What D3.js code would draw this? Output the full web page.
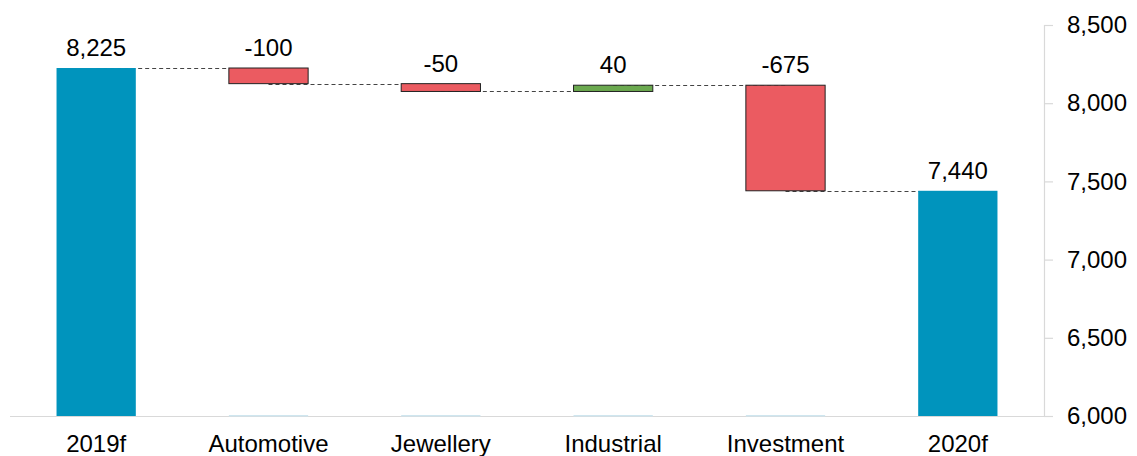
<!DOCTYPE html>
<html>
<head>
<meta charset="utf-8">
<script src="https://cdn.jsdelivr.net/npm/d3@7"></script>
<style>
  html, body { margin: 0; padding: 0; background: #fff; }
  svg { display: block; font-family: "Liberation Sans", Arial, sans-serif; }
</style>
</head>
<body>
<svg id="chart" width="1137" height="456"></svg>
<script>
// Waterfall: start total, segment changes, end total
const categories = ["2019f", "Automotive", "Jewellery", "Industrial", "Investment", "2020f"];
const kinds      = ["total", "delta", "delta", "delta", "delta", "total"];
const values     = [8225, -100, -50, 40, -675, 7440];
const yTicks     = [6000, 6500, 7000, 7500, 8000, 8500];

const colors = { total: "#0094BD", down: "#EB5B61", up: "#6BA94F" };
const fontSize = 24;

const svg = d3.select("#chart");
const plotLeft = 10, plotRight = 1044, plotTop = 25, plotBottom = 416;

const x = d3.scaleBand().domain(categories).range([plotLeft, plotRight]).paddingInner(0.54).paddingOuter(0.27);
const y = d3.scaleLinear().domain([6000, 8500]).range([plotBottom, plotTop]);

// running totals -> start/end of each bar
let running = 0;
const bars = categories.map((c, i) => {
  let start, end;
  if (kinds[i] === "total") { start = 6000; end = values[i]; running = values[i]; }
  else { start = running; end = running + values[i]; running = end; }
  return { cat: c, kind: kinds[i], value: values[i], start, end, level: running };
});

// baseline
svg.append("line")
  .attr("x1", plotLeft).attr("x2", plotRight)
  .attr("y1", plotBottom + 0.5).attr("y2", plotBottom + 0.5)
  .attr("stroke", "#d9d9d9").attr("stroke-width", 1.2);

// faint base slivers under floating bars
svg.append("g").selectAll("rect")
  .data(bars.filter(d => d.kind === "delta"))
  .join("rect")
  .attr("x", d => x(d.cat))
  .attr("width", x.bandwidth())
  .attr("y", plotBottom - 1)
  .attr("height", 1.5)
  .attr("fill", "#cfe6ef");

// connectors from bar centre to next bar centre at running level
const conn = bars.slice(0, -1).map((d, i) => ({ from: d.cat, to: bars[i + 1].cat, level: d.level }));
svg.append("g").selectAll("line")
  .data(conn)
  .join("line")
  .attr("x1", d => x(d.from) + x.bandwidth() / 2)
  .attr("x2", d => x(d.to) + x.bandwidth() / 2)
  .attr("y1", d => Math.round(y(d.level)) + 0.5)
  .attr("y2", d => Math.round(y(d.level)) + 0.5)
  .attr("stroke", "#444")
  .attr("stroke-width", 1)
  .attr("stroke-dasharray", "4,3");

// bars
svg.append("g").selectAll("rect")
  .data(bars)
  .join("rect")
  .attr("x", d => x(d.cat))
  .attr("width", x.bandwidth())
  .attr("y", d => y(Math.max(d.start, d.end)))
  .attr("height", d => Math.abs(y(d.start) - y(d.end)))
  .attr("fill", d => d.kind === "total" ? colors.total : (d.value < 0 ? colors.down : colors.up))
  .attr("stroke", d => d.kind === "total" ? "none" : "#222")
  .attr("stroke-width", 1);

// value labels
const fmt = d3.format(",");
svg.append("g").selectAll("text")
  .data(bars)
  .join("text")
  .attr("x", d => x(d.cat) + x.bandwidth() / 2)
  .attr("y", d => y(Math.max(d.start, d.end)) - 12)
  .attr("text-anchor", "middle")
  .attr("font-size", fontSize)
  .attr("fill", "#000")
  .text(d => d.kind === "total" ? fmt(d.value) : String(d.value));

// category labels
svg.append("g").selectAll("text")
  .data(categories)
  .join("text")
  .attr("x", d => x(d) + x.bandwidth() / 2)
  .attr("y", 452)
  .attr("text-anchor", "middle")
  .attr("font-size", fontSize)
  .attr("fill", "#000")
  .text(d => d);

// right value axis
const axis = d3.axisRight(y).tickValues(yTicks).tickSize(9).tickPadding(14).tickFormat(fmt);
const ag = svg.append("g").attr("transform", `translate(${plotRight},0)`).call(axis);
ag.select(".domain").attr("stroke", "#d9d9d9").attr("stroke-width", 1.2);
ag.selectAll(".tick line").attr("stroke", "#d9d9d9").attr("stroke-width", 1.2);
ag.selectAll(".tick text")
  .attr("font-size", fontSize)
  .attr("font-family", "'Liberation Sans', Arial, sans-serif")
  .attr("fill", "#000");
</script>
</body>
</html>
